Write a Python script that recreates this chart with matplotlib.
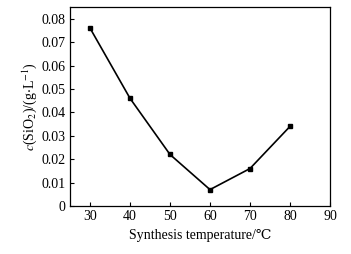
import matplotlib
matplotlib.use('Agg')
import matplotlib.pyplot as plt

plt.rcParams['font.family'] = ['Liberation Serif', 'DejaVu Serif']
plt.rcParams['mathtext.fontset'] = 'stix'

temperature = [30, 40, 50, 60, 70, 80]
silica_conc = [0.076, 0.046, 0.022, 0.007, 0.016, 0.034]
x_ticks = [30, 40, 50, 60, 70, 80, 90]
y_ticks = [0, 0.01, 0.02, 0.03, 0.04, 0.05, 0.06, 0.07, 0.08]
y_tick_labels = ['0', '0.01', '0.02', '0.03', '0.04', '0.05', '0.06', '0.07', '0.08']

fig = plt.figure(figsize=(3.51, 2.54), dpi=100)
ax = fig.add_axes([70 / 351, 1 - 206 / 254, 260 / 351, 199 / 254])

ax.plot(temperature, silica_conc, color='black', linewidth=1.2,
        marker='s', markersize=3.5, markerfacecolor='black')

ax.set_xlim(25, 90)
ax.set_ylim(0, 0.085)
ax.set_xticks(x_ticks)
ax.set_yticks(y_ticks)
ax.set_yticklabels(y_tick_labels)
ax.tick_params(direction='in', length=3, width=0.8, labelsize=10, pad=3)
for s in ax.spines.values():
    s.set_linewidth(0.9)

ax.set_xlabel('Synthesis temperature/\u2103', fontsize=10, labelpad=4)
ax.set_ylabel(r'$c$(SiO$_2$)/(g$\cdot$L$^{-1}$)', fontsize=10, labelpad=2)

fig.savefig('out.png', dpi=100)
